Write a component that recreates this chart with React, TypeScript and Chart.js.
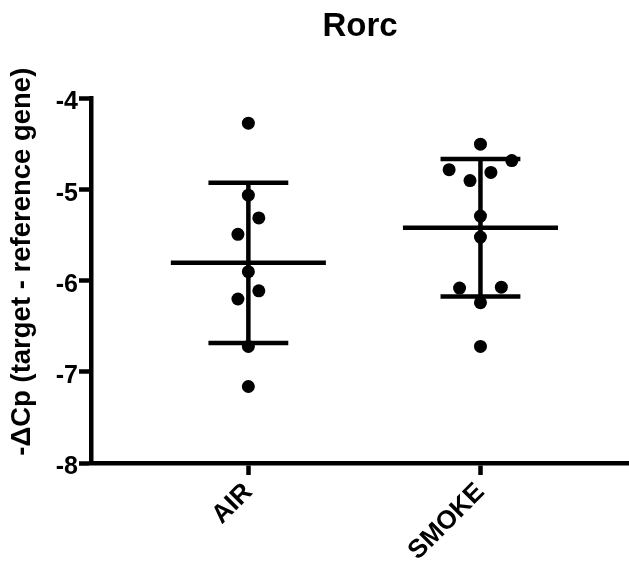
import React, { useEffect, useRef } from 'react';
import { Chart, registerables } from 'chart.js';

Chart.register(...registerables);

const FONT = '"Liberation Sans", Arial, Helvetica, sans-serif';

const categories = ['AIR', 'SMOKE'];
const airValues = [-4.27, -5.06, -5.31, -5.49, -5.9, -6.11, -6.2, -6.72, -7.16];
const airOffsets = [0, 0, 0.045, -0.045, 0, 0.045, -0.045, 0, 0];
const smokeValues = [-4.5, -4.68, -4.78, -4.81, -4.9, -5.29, -5.52, -6.07, -6.08, -6.24, -6.72];
const smokeOffsets = [0, 0.135, -0.135, 0.045, -0.045, 0, 0, 0.09, -0.09, 0, 0];
const yTicks = [-8, -7, -6, -5, -4];

const groups = [
  { values: airValues, offsets: airOffsets },
  { values: smokeValues, offsets: smokeOffsets },
];

function mean(a: number[]) {
  return a.reduce((s, v) => s + v, 0) / a.length;
}
function sd(a: number[]) {
  const m = mean(a);
  return Math.sqrt(a.reduce((s, v) => s + (v - m) * (v - m), 0) / (a.length - 1));
}

const MEAN_HALF = 0.334;
const CAP_HALF = 0.172;

export default function App() {
  const ref = useRef<HTMLCanvasElement>(null);

  useEffect(() => {
    document.body.style.margin = '0';
    const canvas = ref.current;
    if (!canvas) return;

    const datasets: any[] = [];
    groups.forEach((g, i) => {
      const c = i + 1;
      const m = mean(g.values);
      const s = sd(g.values);
      const seg = (pts: { x: number; y: number }[]) => ({
        type: 'line',
        data: pts,
        borderColor: '#000',
        borderWidth: 4.5,
        pointRadius: 0,
        fill: false,
        borderCapStyle: 'butt',
        order: 2,
      });
      datasets.push(seg([{ x: c - MEAN_HALF, y: m }, { x: c + MEAN_HALF, y: m }]));
      datasets.push(seg([{ x: c - CAP_HALF, y: m + s }, { x: c + CAP_HALF, y: m + s }]));
      datasets.push(seg([{ x: c - CAP_HALF, y: m - s }, { x: c + CAP_HALF, y: m - s }]));
      datasets.push(seg([{ x: c, y: m + s }, { x: c, y: m - s }]));
      datasets.push({
        type: 'scatter',
        data: g.values.map((v, k) => ({ x: c + g.offsets[k], y: v })),
        backgroundColor: '#000',
        borderWidth: 0,
        pointRadius: 6.5,
        order: 1,
      });
    });

    const chart = new Chart(canvas, {
      type: 'scatter',
      data: { datasets },
      options: {
        animation: false,
        responsive: false,
        maintainAspectRatio: false,
        devicePixelRatio: 1,
        layout: { padding: 0, autoPadding: false },
        plugins: {
          legend: { display: false },
          tooltip: { enabled: false },
          title: {
            display: true,
            text: 'Rorc',
            fullSize: false,
            color: '#000',
            font: { family: FONT, size: 33, weight: 'bold' },
            padding: { top: 7, bottom: 52 },
          },
        },
        scales: {
          x: {
            type: 'linear',
            min: 0.322,
            max: 2.64,
            afterBuildTicks: (scale: any) => {
              scale.ticks = categories.map((_, i) => ({ value: i + 1 }));
            },
            afterFit: (scale: any) => {
              scale.height = 104;
              scale.paddingLeft = 0;
              scale.paddingRight = 0;
            },
            ticks: {
              autoSkip: false,
              minRotation: 45,
              maxRotation: 45,
              padding: 2,
              color: '#000',
              font: { family: FONT, size: 26, weight: 'bold' },
              callback: (v: any) => categories[Number(v) - 1] ?? '',
            },
            grid: {
              drawOnChartArea: false,
              drawTicks: true,
              tickLength: 12,
              tickWidth: 4.5,
              tickColor: '#000',
            },
            border: { display: true, width: 4.5, color: '#000' },
          },
          y: {
            type: 'linear',
            min: -8,
            max: -4,
            afterBuildTicks: (scale: any) => {
              scale.ticks = yTicks.map((v) => ({ value: v }));
            },
            afterFit: (scale: any) => {
              scale.width = 91;
            },
            ticks: {
              padding: 1,
              labelOffset: 4,
              color: '#000',
              font: { family: FONT, size: 25, weight: 'bold' },
              callback: (v: any) => `${v}`,
            },
            grid: {
              drawOnChartArea: false,
              drawTicks: true,
              tickLength: 12,
              tickWidth: 4.5,
              tickColor: '#000',
            },
            border: { display: true, width: 4.5, color: '#000' },
            title: {
              display: true,
              text: '     -ΔCp (target - reference gene)',
              color: '#000',
              font: { family: FONT, size: 27.5, weight: 'bold' },
              padding: { top: 6, bottom: 0 },
            },
          },
        },
      } as any,
    });

    return () => chart.destroy();
  }, []);

  return (
    <div style={{ width: 629, height: 567 }}>
      <canvas ref={ref} width={629} height={567} style={{ display: 'block' }} />
    </div>
  );
}
